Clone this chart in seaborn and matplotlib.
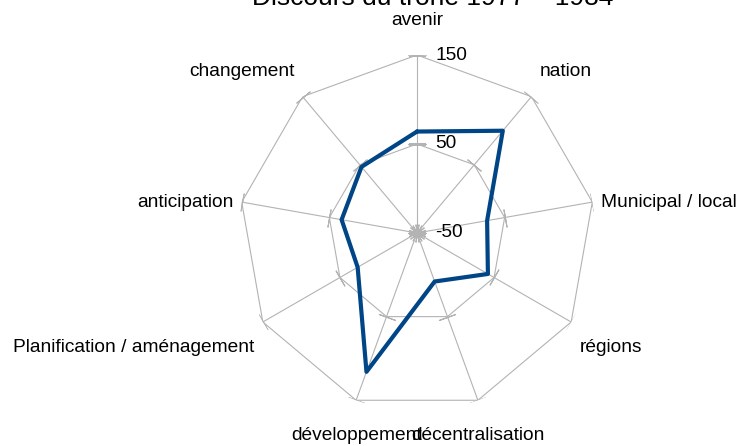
import numpy as np
import seaborn as sns
import matplotlib.pyplot as plt

# Discours du trône 1977 - 1984 : fréquence des thèmes
categories = ['avenir', 'nation', 'Municipal / local', 'régions', 'décentralisation',
              'développement', 'Planification / aménagement', 'anticipation', 'changement']
valeurs = [64, 100, 30, 42, 8, 116, 27, 36, 47]
graduations = [-50, 50, 150]

sns.set_theme(style='white')
plt.rcParams['font.family'] = ['Liberation Sans', 'DejaVu Sans']

gris = '#b3b3b3'
bleu = '#004586'
r_min, r_max = graduations[0], graduations[-1]

n = len(categories)
angles = np.linspace(0, 2 * np.pi, n, endpoint=False)
angles_fermes = np.append(angles, 2 * np.pi)

fig = plt.figure(figsize=(7.39, 4.46), dpi=100)
# centre du radar ~ (417, 233) px, rayon 178 px
cx, cy, rad = 417 / 739, 1 - 233 / 446, 178
ax = fig.add_axes([cx - rad / 739, cy - rad / 446, 2 * rad / 739, 2 * rad / 446],
                  projection='polar')
ax.set_theta_zero_location('N')
ax.set_theta_direction(-1)
ax.set_ylim(r_min, r_max)
ax.set_xticks([])
ax.set_yticks([])
ax.grid(False)
ax.spines['polar'].set_visible(False)
ax.patch.set_alpha(0)

# grille polygonale
for g in graduations[1:]:
	ax.plot(angles_fermes, [g] * (n + 1), color=gris, lw=0.8, zorder=1)
for a in angles:
	ax.plot([a, a], [r_min, r_max], color=gris, lw=0.8, zorder=1)
	ax.plot([a] * len(graduations), graduations, ls='none',
	        marker=(2, 2, 90 - np.degrees(a)), ms=13, mec=gris, mew=0.8, zorder=1)

# série
sns.lineplot(x=angles_fermes, y=valeurs + valeurs[:1], sort=False, estimator=None,
             ax=ax, color=bleu, lw=3, zorder=3)
ax.set_xlabel('')
ax.set_ylabel('')

# étiquettes de graduation
for g in graduations:
	ax.annotate(str(g), xy=(0, g), xytext=(13, 0), textcoords='offset points',
	            ha='left', va='center', fontsize=13.8, color='black')

# étiquettes des catégories
for a, cat in zip(angles, categories):
	s, c = np.sin(a), np.cos(a)
	ha = 'left' if s > 0.4 else ('right' if s < -0.4 else 'center')
	if c > 0.3:
		va = 'baseline'
		dy = 28 * c - 6.5
	elif c < -0.3:
		va = 'top'
		dy = -(5 + 15 * abs(c))
	else:
		va = 'center'
		dy = 0
	dx = 6 * np.sign(s) if abs(s) > 0.4 else 0
	ax.annotate(cat, xy=(a, r_max), xytext=(dx, dy), textcoords='offset points',
	            ha=ha, va=va, fontsize=13.8, color='black', annotation_clip=False)

fig.text(433 / 739, 1 - 5 / 446, 'Discours du trône 1977 – 1984', ha='center',
         va='baseline', fontsize=19, color='black')

fig.savefig('out.png', dpi=100)
